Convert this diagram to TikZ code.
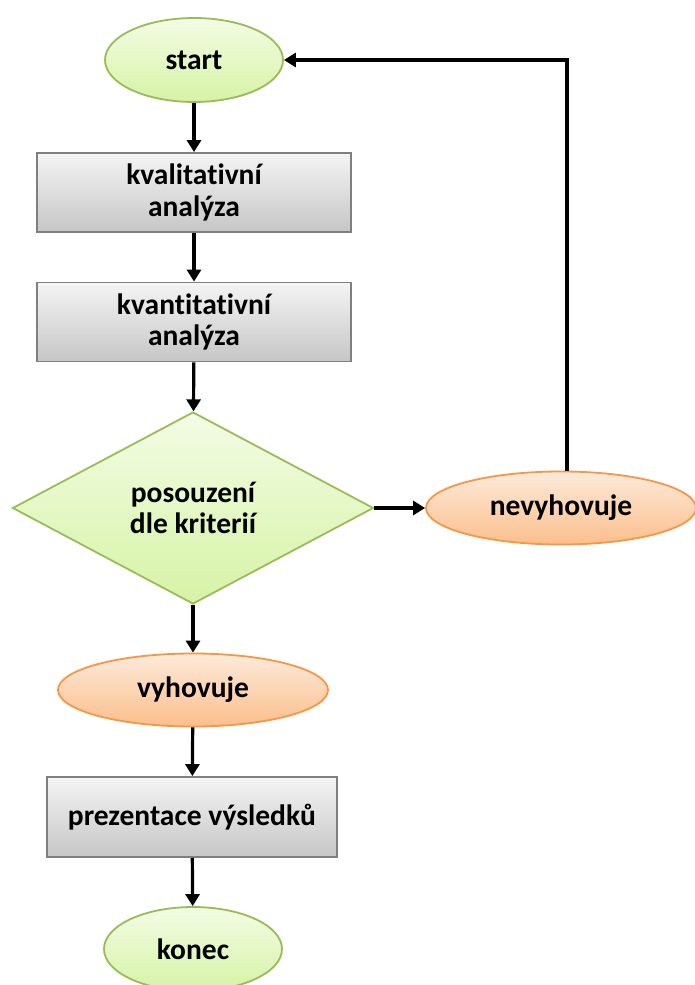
\documentclass[tikz,border=0pt]{standalone}
\usepackage{fontspec}
\setmainfont[Ligatures=NoCommon]{Carlito}
\usepackage{xcolor}
\usepackage{tikz}
\usetikzlibrary{arrows, arrows.meta, shapes.geometric}

\definecolor{termline}{HTML}{9BBB59}
\definecolor{termtop}{HTML}{F3FCE4}
\definecolor{termbot}{HTML}{D6F3A6}
\definecolor{evalline}{HTML}{F79646}
\definecolor{evaltop}{HTML}{FDEADA}
\definecolor{evalbot}{HTML}{FBBF8C}
\definecolor{procline}{HTML}{7F7F7F}
\definecolor{proctop}{HTML}{F4F4F4}
\definecolor{procbot}{HTML}{C6C6C6}

\begin{document}
\begin{tikzpicture}[x=1pt, y=-1pt,
			->,
			>={Triangle[length=12pt, width=14pt]},
			line width=3.2pt,
			every node/.style={font=\fontsize{29.5}{31.5}\selectfont\bfseries, align=center, inner sep=0pt},
			term/.style={ellipse, draw=termline, line width=1.8pt, top color=termtop, bottom color=termbot, minimum width=178pt, minimum height=84pt},
			eval/.style={ellipse, draw=evalline, line width=1.8pt, top color=evaltop, bottom color=evalbot, minimum width=270pt, minimum height=73pt},
			proc/.style={rectangle, draw=procline, line width=1.8pt, top color=proctop, bottom color=procbot, minimum width=314pt, minimum height=79pt},
			decide/.style={diamond, draw=termline, line width=1.8pt, top color=termtop, bottom color=termbot, minimum width=361pt, minimum height=192pt}]

			\useasboundingbox (0,0) rectangle (695,985);

			\node[term] (start) at (194,60) {start};
			\node[proc] (kval) at (194,192.5) {kvalitativní\\analýza};
			\node[proc] (kvant) at (194,322) {kvantitativní\\analýza};
			\node[decide] (posouz) at (193,508) {posouzení\\dle kriterií};
			\node[eval] (nevyh) at (561,508) {nevyhovuje};
			\node[eval] (vyh) at (193,690) {vyhovuje};
			\node[proc, minimum width=290pt, minimum height=80pt] (prez) at (192,817) {prezentace výsledků};
			\node[term] (konec) at (193,949) {konec};
			\coordinate (corner) at (567,60);

			\draw (start) -- (kval);
			\draw (kval) -- (kvant);
			\draw (kvant) -- (posouz);
			\draw (posouz) -- (nevyh);
			\draw (posouz) -- (vyh);
			\draw (vyh) -- (prez);
			\draw (prez) -- (konec);
			\draw (nevyh.north -| corner) -- (corner) -- (start.east);
		\end{tikzpicture}
\end{document}
